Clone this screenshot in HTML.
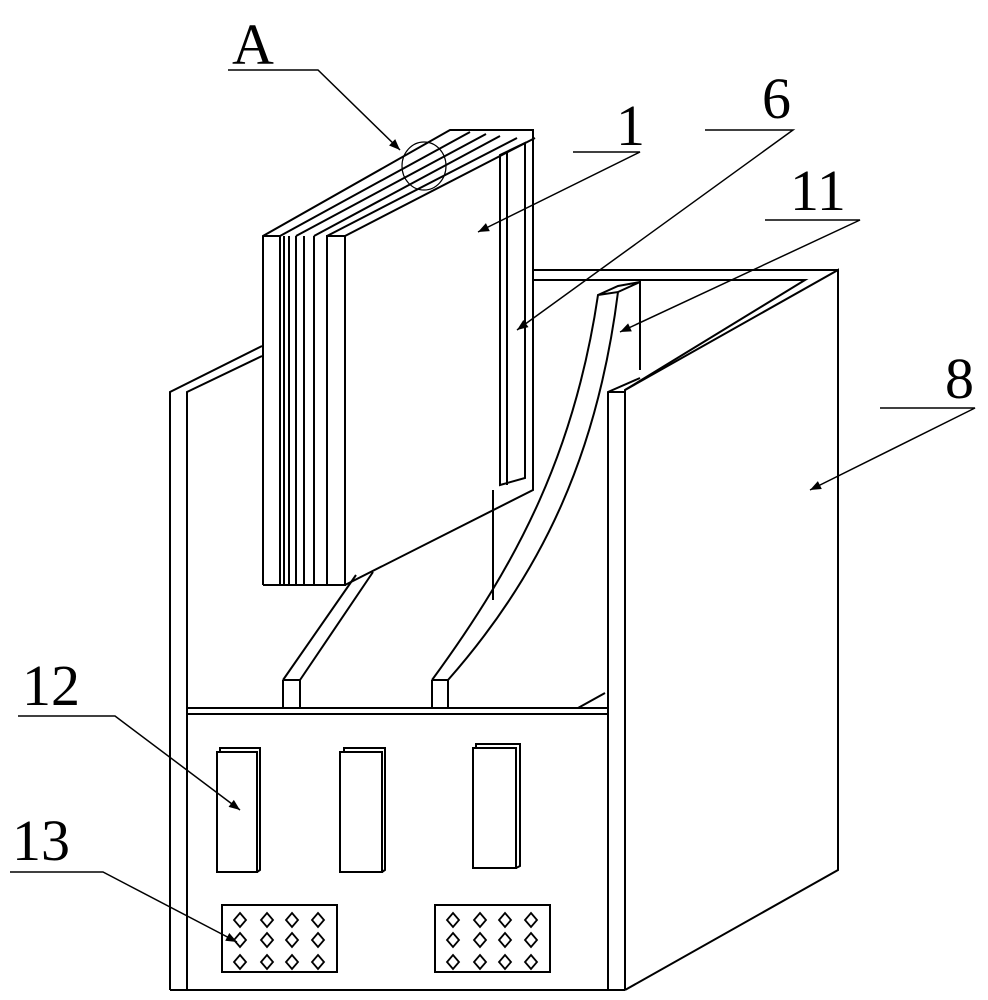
<!DOCTYPE html>
<html><head><style>body{margin:0;background:#fff}svg{display:block}</style></head><body>
<svg width="988" height="1000" viewBox="0 0 988 1000" xmlns="http://www.w3.org/2000/svg">
<defs>
<marker id="ar" viewBox="0 0 10 10" refX="10" refY="5" markerWidth="30" markerHeight="11" orient="auto" markerUnits="userSpaceOnUse"><path d="M0,1 L10,5 L0,9 Z" fill="#000"/></marker>
<path id="dm" d="M0,-7 L6,0 L0,7 L-6,0 Z" fill="none" stroke="#000" stroke-width="1.8"/>
</defs>
<g fill="none" stroke="#000" stroke-width="2">
<path d="M170,990 V392 L262,346 M187,990 V392 L262,356"/>
<path d="M170,990 H625"/>
<path d="M533,270 H838 M533,280 H805 L625,390 M640,280 V370 M493,490 V600"/>
<path d="M608,990 V392 L640,378 M625,990 V390 L838,270 V870 L625,990 M608,392 H625"/>
<path d="M187,708 H608 M187,714 H608 M578,708 L605,693"/>
<path d="M432,680 C520,560 575,450 598,295 L618,292 C598,450 545,570 448,680 M598,295 L618,286 L640,282 L618,292"/>
<path d="M432,680 H448 V708 M432,680 V708"/>
<path d="M283,680 L356,575 M300,680 L373,572 M283,680 H300 V708 M283,680 V708"/>
<path d="M263,585 V236 L450,130 H533 V490 L345,585 M263,236 H280 V585 H263"/>
<path d="M284,236 V585 M289,236 V585 M296,236 V585 M304,236 V585 M314,236 V585 M280,585 H327"/>
<path d="M327,236 H345 V585 H327 Z M345,236 L535,138 M280,236 L470,132 M296,236 L486,134 M314,236 L500,136 M327,236 L517,138"/>
<path d="M500,155 L525,143 V478 L500,485 Z M507,152 V485"/>
<rect x="217" y="752" width="40" height="120"/><path d="M220,752 V748 H260 V870 L257,872"/>
<rect x="340" y="752" width="42" height="120"/><path d="M344,752 V748 H385 V870 L382,872"/>
<rect x="473" y="748" width="43" height="120"/><path d="M476,748 V744 H520 V866 L516,868"/>
<rect x="222" y="905" width="115" height="67"/>
<rect x="435" y="905" width="115" height="67"/>
</g>
<g>
<use href="#dm" x="240" y="920"/><use href="#dm" x="267" y="920"/><use href="#dm" x="292" y="920"/><use href="#dm" x="318" y="920"/>
<use href="#dm" x="240" y="940"/><use href="#dm" x="267" y="940"/><use href="#dm" x="292" y="940"/><use href="#dm" x="318" y="940"/>
<use href="#dm" x="240" y="962"/><use href="#dm" x="267" y="962"/><use href="#dm" x="292" y="962"/><use href="#dm" x="318" y="962"/>
<use href="#dm" x="453" y="920"/><use href="#dm" x="480" y="920"/><use href="#dm" x="505" y="920"/><use href="#dm" x="531" y="920"/>
<use href="#dm" x="453" y="940"/><use href="#dm" x="480" y="940"/><use href="#dm" x="505" y="940"/><use href="#dm" x="531" y="940"/>
<use href="#dm" x="453" y="962"/><use href="#dm" x="480" y="962"/><use href="#dm" x="505" y="962"/><use href="#dm" x="531" y="962"/>
</g>
<ellipse cx="424" cy="166" rx="22" ry="24" fill="none" stroke="#000" stroke-width="1.2"/>
<g fill="none" stroke="#000" stroke-width="1.5" marker-end="url(#ar)">
<path d="M228,70 H318 L400,150"/>
<path d="M573,152 H640 L478,232"/>
<path d="M705,130 H793 L517,330"/>
<path d="M765,220 H860 L620,332"/>
<path d="M880,408 H975 L810,490"/>
<path d="M18,716 H115 L240,810"/>
<path d="M10,872 H103 L237,942"/>
</g>
<g font-family="'Liberation Serif',serif" font-size="58" fill="#000">
<text x="232" y="64">A</text>
<text x="616" y="145">1</text>
<text x="762" y="118">6</text>
<text x="790" y="210">11</text>
<text x="945" y="398">8</text>
<text x="22" y="705">12</text>
<text x="12" y="860">13</text>
</g>
</svg>
</body></html>
